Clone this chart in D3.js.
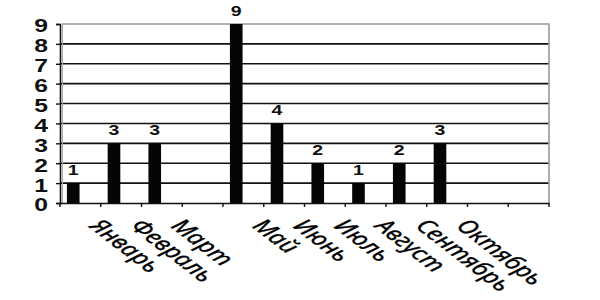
<!DOCTYPE html>
<html><head><meta charset="utf-8">
<script src="https://cdn.jsdelivr.net/npm/d3@7"></script>
<style>body{margin:0;background:#fff}svg{display:block}</style>
</head><body>
<svg id="chart" width="600" height="300"></svg>
<script>
const categories = ["Январь","Февраль","Март","Апрель","Май","Июнь","Июль","Август","Сентябрь","Октябрь","Ноябрь","Декабрь"];
const axisLabels = ["Январь","Февраль","Март","","Май","Июнь","Июль","Август","Сентябрь","Октябрь","",""];
const values = [1,3,3,null,9,4,2,1,2,3,null,null];
const yTickValues = [0,1,2,3,4,5,6,7,8,9];

(function () {
const svg = d3.select("#chart");
const mLeft = 60, mRight = 549, mTop = 24, mBottom = 203;
const x = d3.scaleBand().domain(categories).range([mLeft, mRight]).paddingInner(0).paddingOuter(0);
const y = d3.scaleLinear().domain([0, 9]).range([mBottom, mTop]);
const SX = 1.3;

// gridlines
svg.append("g").selectAll("line").data(yTickValues.filter(d => d > 0 && d < 9)).join("line")
  .attr("x1", mLeft).attr("x2", mRight).attr("y1", d => y(d)).attr("y2", d => y(d))
  .attr("stroke", "#111").attr("stroke-width", 1.6);

// plot border (top & right)
svg.append("path")
  .attr("d", `M${mLeft+2},${y(9)}H${mRight}V${mBottom}`)
  .attr("fill", "none").attr("stroke", "#999").attr("stroke-width", 1.6);
svg.append("line").attr("x1", mLeft+2.5).attr("x2", mLeft+2.5).attr("y1", y(9)).attr("y2", mBottom)
  .attr("stroke", "#aaa").attr("stroke-width", 1);

const rows = categories.map((c, i) => ({c, v: values[i]})).filter(d => d.v != null);
const bw = x.bandwidth();

// bars
svg.append("g").selectAll("rect").data(rows).join("rect")
  .attr("x", d => x(d.c) + bw * 0.17)
  .attr("width", bw * 0.31)
  .attr("y", d => y(d.v))
  .attr("height", d => y(0) - y(d.v))
  .attr("fill", "#050505");

// data labels
svg.append("g").selectAll("text").data(rows).join("text")
  .attr("transform", d => `translate(${x(d.c) + bw * 0.17 + bw * 0.155},${y(d.v) - 8}) scale(${SX},1)`)
  .attr("text-anchor", "middle")
  .attr("font-family", "Liberation Sans, Arial, sans-serif")
  .attr("font-weight", "bold").attr("font-size", 15).attr("fill", "#111")
  .text(d => d.v);

// y axis
const yAxis = svg.append("g").attr("transform", `translate(${mLeft},0)`)
  .call(d3.axisLeft(y).tickValues(yTickValues).tickSize(4).tickFormat(d3.format("d")));
yAxis.select(".domain").attr("stroke", "#111").attr("stroke-width", 1.6);
yAxis.selectAll(".tick line").attr("stroke", "#111").attr("stroke-width", 1.4);
yAxis.selectAll(".tick text").attr("x", 0).attr("dy", null)
  .attr("dominant-baseline", "central")
  .attr("transform", `translate(-12,1.5) scale(${SX},1)`)
  .attr("font-family", "Liberation Sans, Arial, sans-serif")
  .attr("font-weight", "bold").attr("font-size", 19).attr("fill", "#111");

// x axis
const xAxis = svg.append("g").attr("transform", `translate(0,${mBottom})`)
  .call(d3.axisBottom(x).tickSize(0).tickFormat((d, i) => axisLabels[i]));
xAxis.select(".domain").attr("stroke", "#111").attr("stroke-width", 1.6);
// category boundary ticks
svg.append("g").selectAll("line").data(d3.range(categories.length + 1)).join("line")
  .attr("x1", i => mLeft + i * bw).attr("x2", i => mLeft + i * bw)
  .attr("y1", mBottom).attr("y2", mBottom + 4)
  .attr("stroke", "#111").attr("stroke-width", 1.4);
xAxis.selectAll(".tick text")
  .attr("y", 0).attr("dy", null)
  .attr("text-anchor", "start")
  .attr("transform", `translate(8,24) scale(${SX},1) rotate(45)`)
  .attr("font-family", "Noto Sans, DejaVu Sans, sans-serif")
  .attr("font-style", "italic")
  .attr("font-size", 20).attr("fill", "#000")
  .attr("stroke", "#000").attr("stroke-width", 0.3);
})();
</script>
</body></html>
